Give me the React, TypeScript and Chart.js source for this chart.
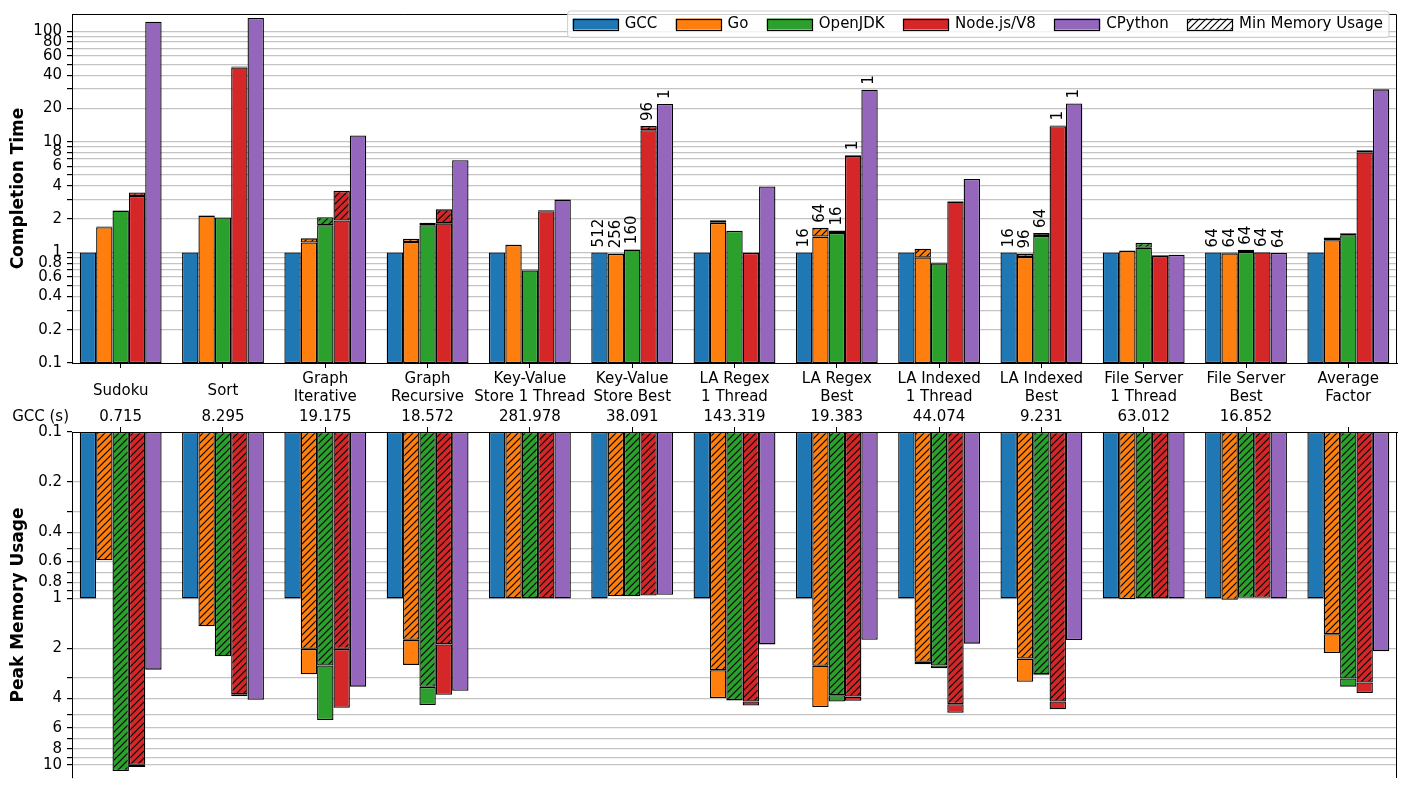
import React, { useEffect, useRef } from "react";
import { Chart, registerables } from "chart.js";

Chart.register(...registerables);

const FONT = "'DejaVu Sans', 'Liberation Sans', Arial, sans-serif";

// ---------------- data ----------------
const categories: string[][] = [
  ["Sudoku"],
  ["Sort"],
  ["Graph", "Iterative"],
  ["Graph", "Recursive"],
  ["Key-Value", "Store 1 Thread"],
  ["Key-Value", "Store Best"],
  ["LA Regex", "1 Thread"],
  ["LA Regex", "Best"],
  ["LA Indexed", "1 Thread"],
  ["LA Indexed", "Best"],
  ["File Server", "1 Thread"],
  ["File Server", "Best"],
  ["Average", "Factor"],
];
const gccSeconds = ["0.715", "8.295", "19.175", "18.572", "281.978", "38.091", "143.319", "19.383", "44.074", "9.231", "63.012", "16.852", ""];

const languages = ["GCC", "Go", "OpenJDK", "Node.js/V8", "CPython"];
const colors = ["#1f77b4", "#ff7f0e", "#2ca02c", "#d62728", "#9467bd"];

// Completion time (normalised to GCC), best configuration
const timeGCC = [1, 1, 1, 1, 1, 1, 1, 1, 1, 1, 1, 1, 1];
const timeGo = [1.69, 2.15, 1.23, 1.24, 1.17, 0.97, 1.85, 1.39, 0.9, 0.91, 1.03, 0.98, 1.29];
const timeJDK = [2.38, 2.07, 1.76, 1.76, 0.685, 1.06, 1.56, 1.5, 0.796, 1.41, 1.1, 1.01, 1.43];
const timeNode = [3.23, 47.0, 1.94, 1.83, 2.36, 12.7, 0.99, 7.42, 2.88, 13.8, 0.93, 1.0, 8.0];
const timeCPython = [121.6, 131.9, 11.4, 6.81, 3.0, 22.0, 3.95, 29.6, 4.61, 22.2, 0.95, 0.99, 29.8];
// Completion time of the min-memory configuration
const timeGoMinMem = [1.71, 2.17, 1.34, 1.33, 1.18, 0.98, 1.95, 1.67, 1.08, 0.975, 1.04, 1.0, 1.36];
const timeJDKMinMem = [2.4, 2.08, 2.08, 1.85, 0.7, 1.07, 1.57, 1.58, 0.81, 1.5, 1.22, 1.055, 1.49];
const timeNodeMinMem = [3.48, 48.0, 3.6, 2.45, 2.4, 13.9, 1.0, 7.55, 2.92, 14.0, 0.94, 1.01, 8.4];

// Peak memory usage (normalised to GCC), best-time configuration
const memGCC = [1, 1, 1, 1, 1, 1, 1, 1, 1, 1, 1, 1, 1];
const memGo = [0.59, 1.47, 2.86, 2.51, 1.0, 0.97, 3.97, 4.5, 2.49, 3.17, 1.01, 1.02, 2.13];
const memJDK = [10.9, 2.23, 5.38, 4.37, 1.0, 0.97, 4.1, 4.16, 2.63, 2.9, 1.0, 0.99, 3.39];
const memNode = [10.3, 3.87, 4.54, 3.79, 1.0, 0.96, 4.4, 4.12, 4.86, 4.64, 1.0, 0.99, 3.7];
const memCPython = [2.68, 4.06, 3.39, 3.59, 1.0, 0.95, 1.89, 1.77, 1.87, 1.78, 1.0, 1.0, 2.08];
// Minimum memory usage
const memGoMin = [0.59, 1.47, 2.01, 1.77, 1.0, 0.97, 2.7, 2.54, 2.4, 2.3, 1.01, 1.02, 1.64];
const memJDKMin = [10.9, 2.23, 2.53, 3.4, 1.0, 0.97, 4.08, 3.82, 2.53, 2.86, 1.0, 0.99, 3.03];
const memNodeMin = [10.0, 3.77, 2.01, 1.89, 1.0, 0.96, 4.16, 3.89, 4.32, 4.16, 1.0, 0.99, 3.2];

// Thread-count annotations
const threadsGCC = ["", "", "", "", "", "512", "", "16", "", "16", "", "64", ""];
const threadsGo = ["", "", "", "", "", "256", "", "64", "", "96", "", "64", ""];
const threadsJDK = ["", "", "", "", "", "160", "", "16", "", "64", "", "64", ""];
const threadsNode = ["", "", "", "", "", "96", "", "1", "", "1", "", "64", ""];
const threadsCPython = ["", "", "", "", "", "1", "", "1", "", "1", "", "64", ""];

// Axis ticks
const topGridTicks = [0.1, 0.2, 0.3, 0.4, 0.5, 0.6, 0.7, 0.8, 0.9, 1, 2, 3, 4, 5, 6, 7, 8, 9, 10, 20, 30, 40, 50, 60, 70, 80, 90, 100];
const topTickLabels = [0.1, 0.2, 0.4, 0.6, 0.8, 1, 2, 4, 6, 8, 10, 20, 40, 60, 80, 100];
const botGridTicks = [0.1, 0.2, 0.3, 0.4, 0.5, 0.6, 0.7, 0.8, 0.9, 1, 2, 3, 4, 5, 6, 7, 8, 9, 10];
const botTickLabels = [0.1, 0.2, 0.4, 0.6, 0.8, 1, 2, 4, 6, 8, 10];

const GRID = "#c4c4c4";

function makeHatch(ctx: CanvasRenderingContext2D, color: string): CanvasPattern {
  const s = 7;
  const c = document.createElement("canvas");
  c.width = s;
  c.height = s;
  const g = c.getContext("2d")!;
  g.fillStyle = color;
  g.fillRect(0, 0, s, s);
  g.strokeStyle = "#000";
  g.lineWidth = 1.2;
  g.beginPath();
  g.moveTo(0, s);
  g.lineTo(s, 0);
  g.moveTo(-1, 1);
  g.lineTo(1, -1);
  g.moveTo(s - 1, s + 1);
  g.lineTo(s + 1, s - 1);
  g.stroke();
  return ctx.createPattern(c, "repeat")!;
}

const barCommon = {
  borderColor: "#000",
  borderWidth: 1.3,
  borderSkipped: false as const,
  categoryPercentage: 0.8,
  barPercentage: 1.0,
};

const X_MIN = -0.476;
const X_MAX = 12.476;

function xAxis(position: "top" | "bottom", height: number, showLabels: boolean) {
  return {
    type: "linear" as const,
    position,
    min: X_MIN,
    max: X_MAX,
    bounds: "data" as const,
    offset: false,
    afterBuildTicks: (s: any) => {
      s.ticks = categories.map((_, j) => ({ value: j }));
    },
    afterFit: (s: any) => {
      s.height = height;
    },
    ticks: {
      display: showLabels,
      autoSkip: false,
      maxRotation: 0,
      minRotation: 0,
      padding: 1,
      font: { size: 15, family: FONT },
      color: "#000",
      callback: (v: any) => gccSeconds[Number(v)] ?? "",
    },
    grid: {
      display: true,
      drawOnChartArea: false,
      drawTicks: true,
      tickLength: 5,
      tickColor: "#000",
      offset: false,
    },
    border: { display: true, color: "#000", width: 1 },
  };
}

function yAxis(opts: { min: number; max: number; reverse: boolean; grid: number[]; labels: number[]; title: string }) {
  return {
    type: "logarithmic" as const,
    min: opts.min,
    max: opts.max,
    reverse: opts.reverse,
    stacked: false,
    bounds: "data" as const,
    afterBuildTicks: (s: any) => {
      s.ticks = opts.grid.map((v) => ({ value: v }));
    },
    afterFit: (s: any) => {
      s.width = 72;
    },
    ticks: {
      autoSkip: false,
      padding: 5,
      font: { size: 15, family: FONT },
      color: "#000",
      callback: (v: any) => (opts.labels.includes(Number(v)) ? String(v) : ""),
    },
    grid: {
      color: (c: any) => (c.tick && c.tick.value === 0.1 ? "rgba(0,0,0,0)" : GRID),
      lineWidth: 1.2,
      drawTicks: true,
      tickLength: 5,
      tickColor: "#000",
    },
    border: { display: true, color: "#000", width: 1 },
    title: {
      display: true,
      text: opts.title,
      color: "#000",
      font: { size: 17, weight: "bold" as const, family: FONT },
      padding: { top: 8, bottom: 0 },
    },
  };
}

export default function App() {
  const topRef = useRef<HTMLCanvasElement>(null);
  const botRef = useRef<HTMLCanvasElement>(null);

  useEffect(() => {
    document.body.style.margin = "0";
    Chart.defaults.font.family = FONT;
    Chart.defaults.color = "#000";
    const topCanvas = topRef.current!;
    const botCanvas = botRef.current!;
    const tctx = topCanvas.getContext("2d")!;
    const bctx = botCanvas.getContext("2d")!;

    const topHatch = colors.map((c) => makeHatch(tctx, c));
    const botHatch = colors.map((c) => makeHatch(bctx, c));
    const legendHatch = makeHatch(tctx, "#ffffff");

    const idx = categories.map((_, j) => j);

    // ----- top datasets -----
    const timeBest = [timeGCC, timeGo, timeJDK, timeNode, timeCPython];
    const timeMin: (number[] | null)[] = [null, timeGoMinMem, timeJDKMinMem, timeNodeMinMem, null];
    const threads = [threadsGCC, threadsGo, threadsJDK, threadsNode, threadsCPython];
    const topDatasets: any[] = [];
    const solidIndex: number[] = [];
    languages.forEach((lang, i) => {
      solidIndex.push(topDatasets.length);
      topDatasets.push({
        label: lang,
        data: idx.map((j) => ({ x: j, y: [0.1, timeBest[i][j]] })),
        backgroundColor: colors[i],
        stack: "s" + i,
        ...barCommon,
      });
      const tm = timeMin[i];
      if (tm) {
        topDatasets.push({
          label: lang + " (min memory)",
          data: idx
            .filter((j) => tm[j] > timeBest[i][j])
            .map((j) => ({ x: j, y: [timeBest[i][j], tm[j]] })),
          backgroundColor: topHatch[i],
          stack: "s" + i,
          ...barCommon,
        });
      }
    });

    // ----- bottom datasets -----
    const memBest = [memGCC, memGo, memJDK, memNode, memCPython];
    const memMin: (number[] | null)[] = [null, memGoMin, memJDKMin, memNodeMin, null];
    const botDatasets: any[] = [];
    languages.forEach((lang, i) => {
      const mm = memMin[i];
      if (mm) {
        botDatasets.push({
          label: lang + " (min memory)",
          data: idx.map((j) => ({ x: j, y: [0.1, mm[j]] })),
          backgroundColor: botHatch[i],
          stack: "s" + i,
          ...barCommon,
        });
        botDatasets.push({
          label: lang,
          data: idx
            .filter((j) => memBest[i][j] > mm[j])
            .map((j) => ({ x: j, y: [mm[j], memBest[i][j]] })),
          backgroundColor: colors[i],
          stack: "s" + i,
          ...barCommon,
        });
      } else {
        botDatasets.push({
          label: lang,
          data: idx.map((j) => ({ x: j, y: [0.1, memBest[i][j]] })),
          backgroundColor: colors[i],
          stack: "s" + i,
          ...barCommon,
        });
      }
    });

    const topDecor = {
      id: "topDecor",
      afterDatasetsDraw(chart: any) {
        const ctx = chart.ctx as CanvasRenderingContext2D;
        const ys = chart.scales.y;
        ctx.save();
        ctx.font = `15px ${FONT}`;
        ctx.fillStyle = "#000";
        ctx.textAlign = "left";
        ctx.textBaseline = "middle";
        languages.forEach((_, i) => {
          const meta = chart.getDatasetMeta(solidIndex[i]);
          threads[i].forEach((t, j) => {
            if (!t) return;
            const el = meta.data[j];
            const tm = timeMin[i];
            const v = tm ? Math.max(tm[j], timeBest[i][j]) : timeBest[i][j];
            const y = ys.getPixelForValue(v) - 5;
            ctx.save();
            ctx.translate(el.x, y);
            ctx.rotate(-Math.PI / 2);
            ctx.fillText(t, 0, 0);
            ctx.restore();
          });
        });
        ctx.restore();
      },
      afterDraw(chart: any) {
        const ctx = chart.ctx as CanvasRenderingContext2D;
        const a = chart.chartArea;
        const xs = chart.scales.x;
        ctx.save();
        // frame: top and right
        ctx.strokeStyle = "#000";
        ctx.lineWidth = 1;
        ctx.beginPath();
        const tY = Math.round(a.top) + 0.5;
        const rX = Math.round(a.right) - 0.5;
        ctx.moveTo(Math.round(a.left), tY);
        ctx.lineTo(rX, tY);
        ctx.lineTo(rX, Math.round(a.bottom));
        ctx.stroke();

        // category labels
        ctx.font = `15px ${FONT}`;
        ctx.fillStyle = "#000";
        ctx.textAlign = "center";
        ctx.textBaseline = "middle";
        categories.forEach((lines, j) => {
          const x = xs.getPixelForValue(j);
          if (lines.length === 1) {
            ctx.fillText(lines[0], x, 391);
          } else {
            ctx.fillText(lines[0], x, 379.5);
            ctx.fillText(lines[1], x, 396.8);
          }
        });

        // legend
        const items = [
          ...languages.map((l, i) => ({ label: l, fill: colors[i] as any })),
          { label: "Min Memory Usage", fill: legendHatch as any },
        ];
        const patchW = 46;
        const patchH = 11;
        const textGap = 6;
        const colGap = 18.4;
        const widths = items.map((it) => ctx.measureText(it.label).width);
        let total = 0;
        widths.forEach((w, i) => {
          total += patchW + textGap + w + (i < items.length - 1 ? colGap : 0);
        });
        const boxR = 1389;
        const boxL = boxR - 6 - total - 5;
        const boxT = 11;
        const boxB = 37.5;
        const r = 3;
        ctx.beginPath();
        ctx.moveTo(boxL + r, boxT);
        ctx.lineTo(boxR - r, boxT);
        ctx.quadraticCurveTo(boxR, boxT, boxR, boxT + r);
        ctx.lineTo(boxR, boxB - r);
        ctx.quadraticCurveTo(boxR, boxB, boxR - r, boxB);
        ctx.lineTo(boxL + r, boxB);
        ctx.quadraticCurveTo(boxL, boxB, boxL, boxB - r);
        ctx.lineTo(boxL, boxT + r);
        ctx.quadraticCurveTo(boxL, boxT, boxL + r, boxT);
        ctx.closePath();
        ctx.fillStyle = "rgba(255,255,255,0.8)";
        ctx.fill();
        ctx.strokeStyle = "#cccccc";
        ctx.lineWidth = 1;
        ctx.stroke();

        let x = boxL + 5;
        const cy = 24;
        ctx.textAlign = "left";
        items.forEach((it, i) => {
          ctx.fillStyle = it.fill;
          ctx.fillRect(x, cy - patchH / 2, patchW, patchH);
          ctx.strokeStyle = "#000";
          ctx.lineWidth = 1.2;
          ctx.strokeRect(Math.round(x) + 0.5, Math.round(cy - patchH / 2) + 0.5, patchW - 1, patchH);
          ctx.fillStyle = "#000";
          ctx.fillText(it.label, x + patchW + textGap, cy + 0.5);
          x += patchW + textGap + widths[i] + colGap;
        });
        ctx.restore();
      },
    };

    const botDecor = {
      id: "botDecor",
      afterDraw(chart: any) {
        const ctx = chart.ctx as CanvasRenderingContext2D;
        const a = chart.chartArea;
        ctx.save();
        ctx.strokeStyle = "#000";
        ctx.lineWidth = 1;
        const rX = Math.round(a.right) - 0.5;
        ctx.beginPath();
        ctx.moveTo(rX, Math.round(a.top));
        ctx.lineTo(rX, a.bottom);
        ctx.stroke();
        ctx.font = `15px ${FONT}`;
        ctx.fillStyle = "#000";
        ctx.textAlign = "right";
        ctx.textBaseline = "middle";
        ctx.fillText("GCC (s)", 69, 12);
        ctx.restore();
      },
    };

    const top = new Chart(topCanvas, {
      type: "bar",
      data: { datasets: topDatasets },
      options: {
        responsive: false,
        animation: false,
        devicePixelRatio: 1,
        layout: { padding: { left: 0, right: 8, top: 3, bottom: 0 } },
        plugins: { legend: { display: false }, tooltip: { enabled: false } },
        scales: {
          x: xAxis("bottom", 42, false) as any,
          y: yAxis({ min: 0.1, max: 143, reverse: false, grid: topGridTicks, labels: topTickLabels, title: "Completion Time" }) as any,
        },
      },
      plugins: [topDecor],
    });

    const bot = new Chart(botCanvas, {
      type: "bar",
      data: { datasets: botDatasets },
      options: {
        responsive: false,
        animation: false,
        devicePixelRatio: 1,
        layout: { padding: { left: 0, right: 8, top: 0, bottom: 0 } },
        plugins: { legend: { display: false }, tooltip: { enabled: false } },
        scales: {
          x: xAxis("top", 27, true) as any,
          y: yAxis({ min: 0.1, max: 12, reverse: true, grid: botGridTicks, labels: botTickLabels, title: "Peak Memory Usage" }) as any,
        },
      },
      plugins: [botDecor],
    });

    return () => {
      top.destroy();
      bot.destroy();
    };
  }, []);

  return (
    <div style={{ position: "absolute", left: 0, top: 0, width: 1405, height: 792, background: "#fff", overflow: "hidden" }}>
      <canvas ref={topRef} width={1405} height={405} style={{ display: "block", width: 1405, height: 405 }} />
      <canvas ref={botRef} width={1405} height={387} style={{ display: "block", width: 1405, height: 387 }} />
    </div>
  );
}
